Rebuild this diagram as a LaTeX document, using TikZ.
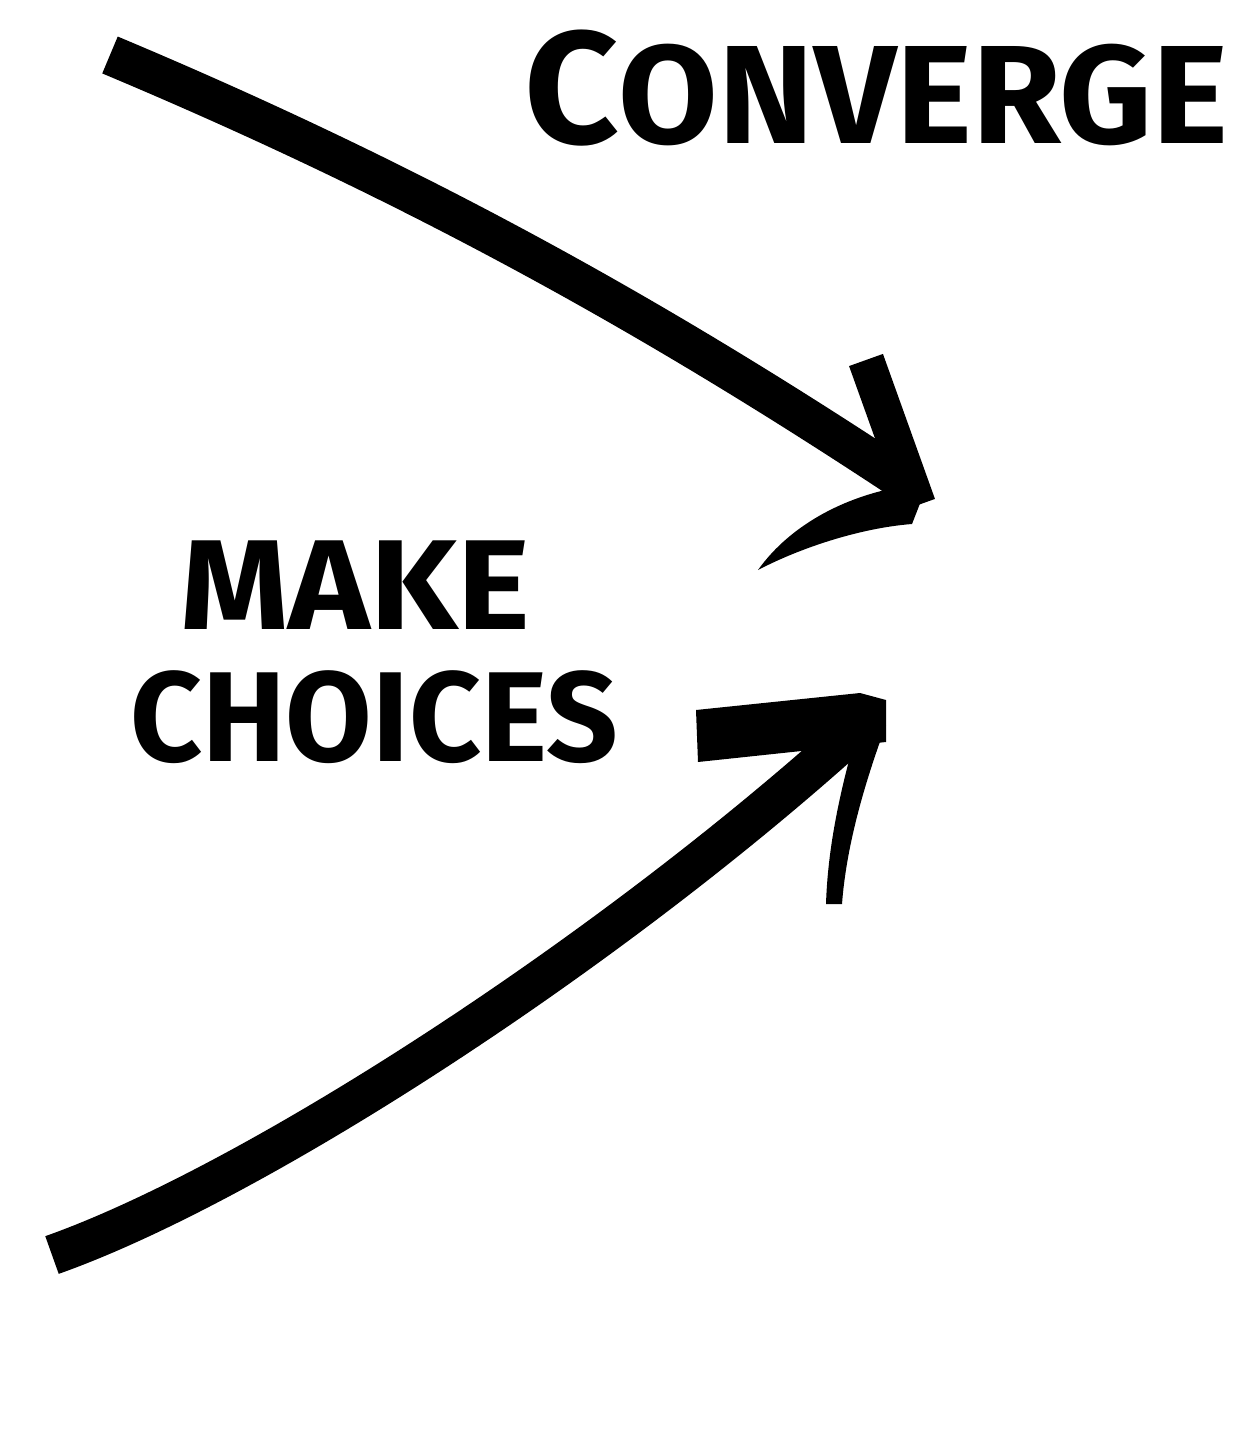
\documentclass[tikz,border=0pt]{standalone}
\usepackage{graphicx}
\usepackage{fontspec}
\setmainfont{Fira Sans}
\begin{document}
\begin{tikzpicture}[x=1pt,y=-1pt,
  shaft/.style={line width=40pt,line cap=butt,draw=black},
  headstroke/.style={line width=36pt,line cap=butt,line join=miter,draw=black},
  handtext/.style={inner sep=0pt,anchor=west,font=\bfseries}]
\useasboundingbox[fill=white] (0,0) rectangle (1256,1429);
% text
\node[handtext] (conv) at (524,88) {\scalebox{1.03}[1]{\fontsize{160}{160}\selectfont C\fontsize{140}{140}\selectfont ONVERGE}};
\node[handtext] (make) at (180,585) {\scalebox{1.08}[1]{\fontsize{128}{128}\selectfont MAKE}};
\node[handtext] (choi) at (130,717) {\scalebox{0.98}[1]{\fontsize{128}{128}\selectfont CHOICES}};
% top arrow
\coordinate (t0) at (110,55);
\coordinate (t1) at (902,480);
\coordinate (th1) at (866,360);
\coordinate (th2) at (918,505);
\coordinate (th3) at (758,570);
\draw[shaft] (t0) .. controls (420,185) and (660,320) .. (t1);
\draw[headstroke] (th1) -- (th2);
\fill[black] (928,483) .. controls (850,490) and (790,525) .. (th3)
  .. controls (800,548) and (860,528) .. (912,524) -- cycle;
% bottom arrow
\coordinate (b0) at (52,1255);
\coordinate (b1) at (850,735);
\coordinate (bh1) at (696,735);
\coordinate (bh3) at (833,900);
\draw[shaft] (b0) .. controls (250,1185) and (600,960) .. (b1);
\fill[black] (bh1) ++(0,-25) -- (860,693) -- (886,700) -- (886,742) -- (698,762) -- cycle;
\fill[black] (860,720) -- (886,725) .. controls (862,790) and (846,850) .. (842,904) -- (826,904) .. controls (828,840) and (843,780) .. cycle;
\end{tikzpicture}
\end{document}
